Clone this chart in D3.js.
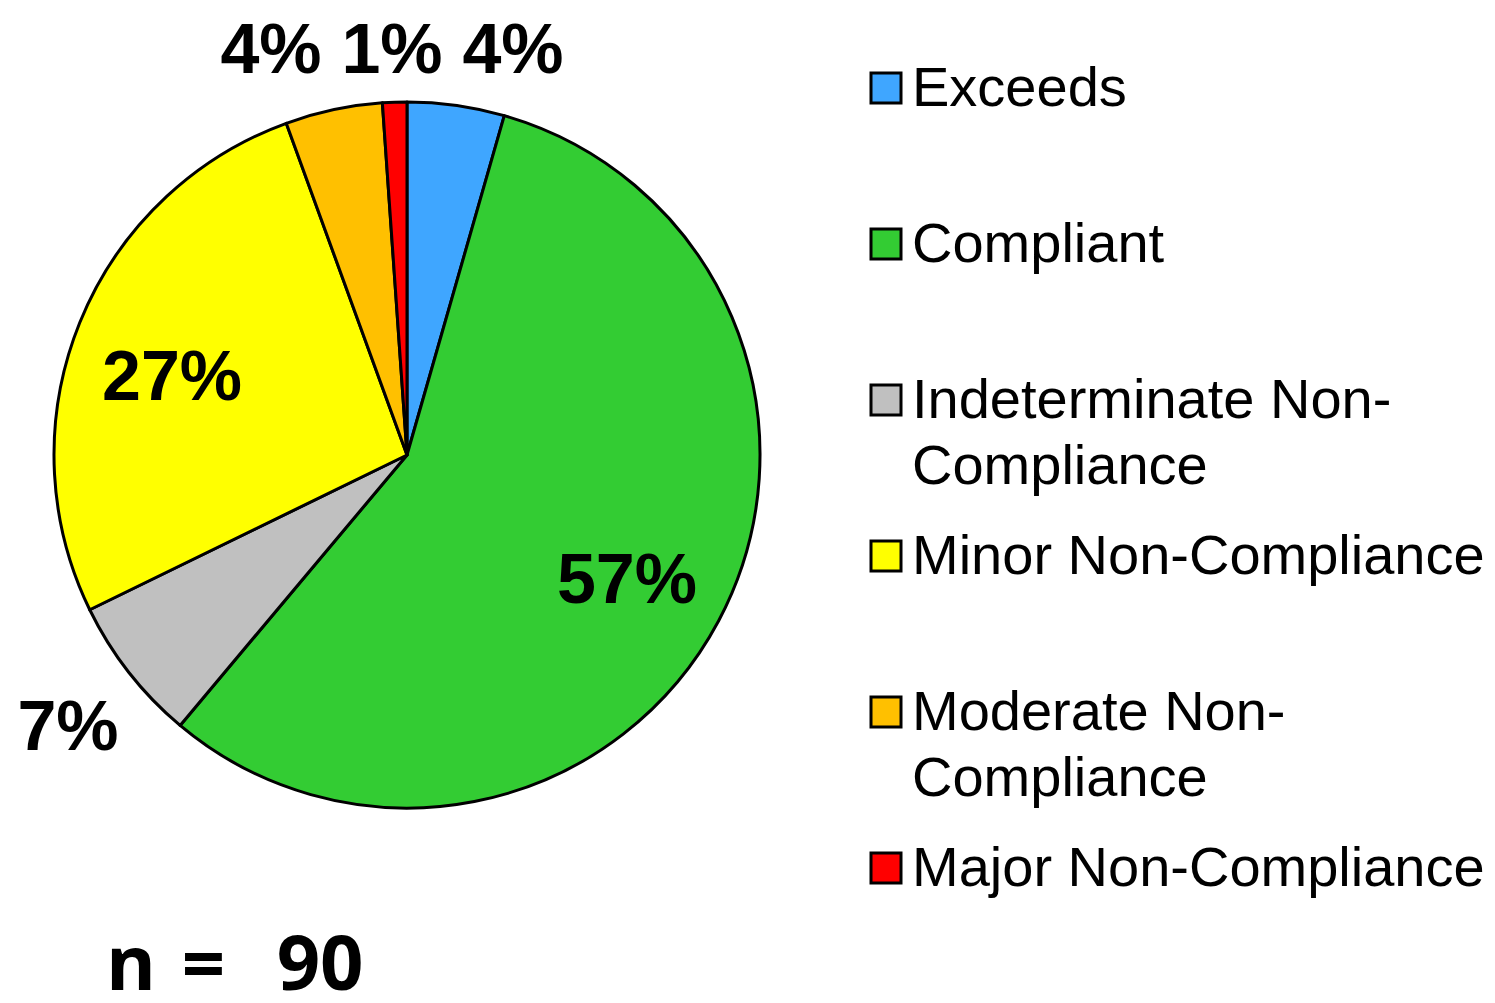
<!DOCTYPE html>
<html>
<head>
<meta charset="utf-8">
<script src="https://cdn.jsdelivr.net/npm/d3@7"></script>
<style>
  body { margin: 0; background: #fff; }
  #vis text { fill: #000; }
</style>
</head>
<body>
<div id="vis"></div>
<script>
// data (counts out of n = 90)
const categories = ['Exceeds', 'Compliant', 'Indeterminate Non-Compliance', 'Minor Non-Compliance', 'Moderate Non-Compliance', 'Major Non-Compliance'];
const counts = [4, 51, 6, 24, 4, 1];
const colors = ['#3fa6ff', '#33cc33', '#c0c0c0', '#ffff00', '#ffc000', '#ff0000'];
const legendLines = [['Exceeds'], ['Compliant'], ['Indeterminate Non-', 'Compliance'], ['Minor Non-Compliance'], ['Moderate Non-', 'Compliance'], ['Major Non-Compliance']];
const total = 90;

const width = 1495, height = 1003;
const cx = 407, cy = 455, radius = 353;

const svg = d3.select('#vis')
    .append('svg')
    .attr('width', width)
    .attr('height', height);

const pie = d3.pie().sort(null).value(d => d);
const arc = d3.arc().innerRadius(0).outerRadius(radius);
const arcs = pie(counts);

const g = svg.append('g')
    .attr('transform', `translate(${cx},${cy})`);

g.selectAll('.slice')
    .data(arcs)
    .join('path')
    .attr('class', 'slice')
    .attr('d', arc)
    .attr('fill', (d, i) => colors[i])
    .attr('stroke', '#000')
    .attr('stroke-width', 3)
    .attr('stroke-linejoin', 'round');

// percent labels - placed like the original (small slices lifted above the pie)
const labelPos = [[106, -382], [220, 148], [-339, 295], [-235, -55], [-136, -382], [-15, -382]];
g.selectAll('.pct')
    .data(arcs)
    .join('text')
    .attr('class', 'pct')
    .attr('x', (d, i) => labelPos[i][0])
    .attr('y', (d, i) => labelPos[i][1])
    .attr('text-anchor', 'middle')
    .style('font-family', '"Liberation Sans", Arial, sans-serif')
    .style('font-weight', 'bold')
    .style('font-size', '70px')
    .text(d => Math.round(d.data / total * 100) + '%');

// legend
const legendY = d3.scalePoint()
    .domain(categories)
    .range([88, 868]);

const legend = svg.append('g')
    .attr('transform', 'translate(870,0)');

const item = legend.selectAll('.item')
    .data(categories)
    .join('g')
    .attr('class', 'item')
    .attr('transform', d => `translate(0,${legendY(d)})`);

item.append('rect')
    .attr('x', 1)
    .attr('y', -15)
    .attr('width', 30)
    .attr('height', 30)
    .attr('fill', (d, i) => colors[i])
    .attr('stroke', '#000')
    .attr('stroke-width', 3);

item.append('text')
    .attr('x', 42)
    .attr('y', 18)
    .style('font-family', '"Liberation Sans", Arial, sans-serif')
    .style('font-size', '56px')
    .selectAll('tspan')
    .data((d, i) => legendLines[i])
    .join('tspan')
    .attr('x', 42)
    .attr('dy', (d, j) => j === 0 ? 0 : 66)
    .text(d => d);

// sample size
svg.append('text')
    .attr('x', 106)
    .attr('y', 990)
    .style('font-family', '"Open Sans", sans-serif')
    .style('font-weight', 'bold')
    .style('font-size', '76px')
    .style('white-space', 'pre')
    .style('word-spacing', '6px')
    .attr('xml:space', 'preserve')
    .text('n =  ' + total);
</script>
</body>
</html>
